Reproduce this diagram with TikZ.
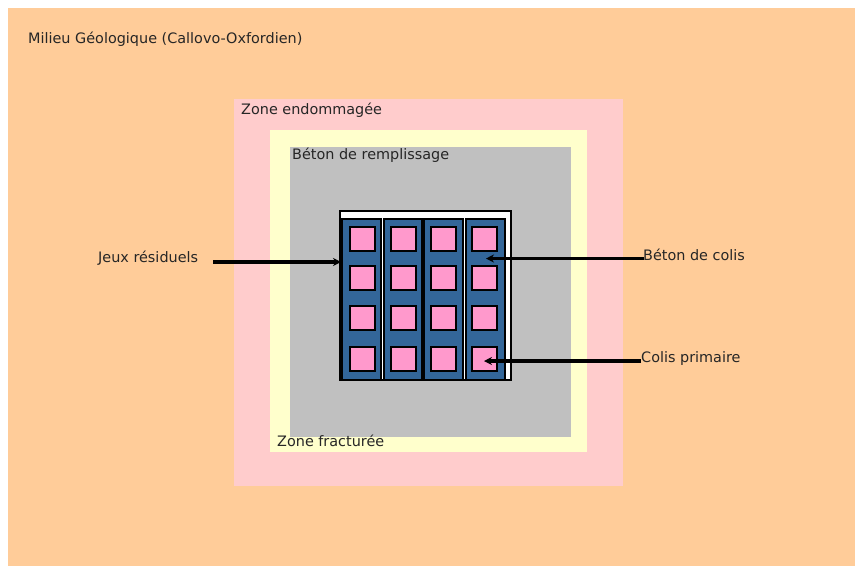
\documentclass[tikz,border=0pt]{standalone}
\usepackage{fontspec}
\setmainfont{DejaVu Sans}
\usetikzlibrary{arrows.meta}
\definecolor{geol}{HTML}{FFCC99}
\definecolor{damaged}{HTML}{FFCCCC}
\definecolor{fract}{HTML}{FFFFCC}
\definecolor{fillconc}{HTML}{C0C0C0}
\definecolor{packconc}{HTML}{336699}
\definecolor{primpk}{HTML}{FF99CC}
\tikzset{
  lbl/.style={anchor=west, inner sep=0pt, font=\fontsize{14.4}{17}\selectfont, text=black!85},
  column/.style={fill=packconc, draw=black, line width=1.8pt},
  primary/.style={fill=primpk, draw=black, line width=1.8pt},
  pointer/.style={draw=black, line width=3.2pt, -{Stealth[length=8pt,width=8pt]}}
}
\begin{document}
\begin{tikzpicture}[x=1pt,y=-1pt]
  \useasboundingbox (0,0) rectangle (855,566);
  % nested zones
  \fill[geol] (8,8) rectangle (855,566);
  \fill[damaged] (234,99) rectangle (623,486);
  \fill[fract] (270,130) rectangle (587,452);
  \fill[fillconc] (290,147) rectangle (571,437);
  % storage cell
  \draw[fill=white, line width=1.8pt] (340,211) rectangle (511,380);
  \foreach \x/\w in {342/381, 384/422, 424/463, 466/505}{
    \draw[column] (\x,219) rectangle (\w,380);
  }
  \foreach \x in {350,391,431,472}{
    \foreach \y in {227,266,306,347}{
      \draw[primary] (\x,\y) rectangle ++(25,24);
    }
  }
  % labels
  \node[lbl] (milieu) at (28,39) {Milieu Géologique (Callovo-Oxfordien)};
  \node[lbl] (endo) at (241,110) {Zone endommagée};
  \node[lbl] (beton) at (292,155) {Béton de remplissage};
  \node[lbl] (fracture) at (277,441) {Zone fracturée};
  \node[lbl] (jeux) at (98,258) {Jeux résiduels};
  \node[lbl] (bcolis) at (643,255) {Béton de colis};
  \node[lbl] (cprim) at (641,359) {Colis primaire};
  % pointer ends
  \coordinate (jeuxA) at (213,262);
  \coordinate (jeuxB) at (341,262);
  \coordinate (bcolisA) at (644,258.5);
  \coordinate (bcolisB) at (486,258.5);
  \coordinate (cprimA) at (641,361);
  \coordinate (cprimB) at (484,361);
  \draw[pointer] (jeuxA) -- (jeuxB);
  \draw[pointer] (bcolisA) -- (bcolisB);
  \draw[pointer] (cprimA) -- (cprimB);
\end{tikzpicture}
\end{document}
